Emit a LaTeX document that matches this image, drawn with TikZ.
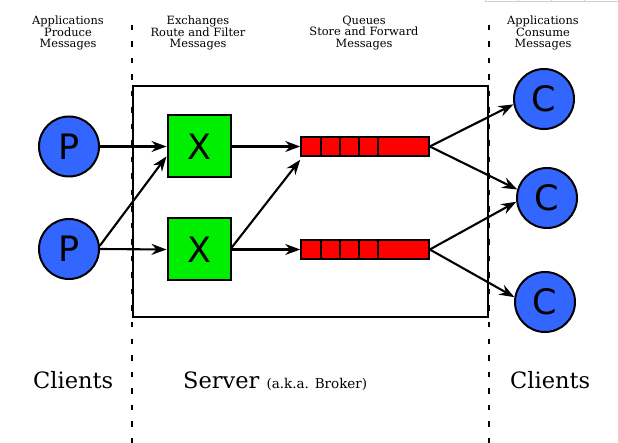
\documentclass[tikz,border=0pt]{standalone}
\usepackage{fontspec}
\setmainfont{DejaVu Serif}
\newfontfamily\letterfont{DejaVu Sans}
\usetikzlibrary{arrows.meta,calc}
\definecolor{cblue}{RGB}{51,102,255}
\definecolor{xgreen}{RGB}{0,238,0}
\definecolor{qred}{RGB}{255,0,0}
\definecolor{gridgray}{RGB}{205,212,208}
\begin{document}
\begin{tikzpicture}[x=1pt,y=-1pt,
  client/.style={circle,draw=black,line width=2pt,fill=cblue,minimum size=60pt,inner sep=0pt,
    font=\letterfont\fontsize{35}{35}\selectfont},
  exch/.style={rectangle,draw=black,line width=2pt,fill=xgreen,minimum width=63pt,minimum height=62pt,inner sep=0pt,
    font=\letterfont\fontsize{35}{35}\selectfont},
  queue/.style={rectangle,draw=black,line width=1.6pt,fill=qred,minimum width=128pt,minimum height=19pt,inner sep=0pt},
  cell/.style={line width=1.5pt},
  flow/.style={line width=2.1pt,-{Stealth[length=15pt,width=11pt,inset=5pt]}},
  sep/.style={line width=1.3pt,dash pattern=on 5.5pt off 11pt},
  box/.style={draw=black,line width=2pt,minimum width=355pt,minimum height=231pt,inner sep=0pt},
  toplbl/.style={align=center,font=\fontsize{11.4}{11.9}\selectfont,inner sep=0pt},
  biglbl/.style={anchor=base west,inner sep=0pt,font=\fontsize{22.5}{24}\selectfont},
  gridline/.style={draw=gridgray,line width=1pt}
]
\useasboundingbox (0,0) rectangle (618,443);

% faint grid remnant at top right
\coordinate (g0) at (485,2);
\coordinate (g1) at (618,2);
\draw[gridline] (g0) -- (g1);
\foreach \gx in {485,518,551,584}{
  \draw[gridline] (\gx,0) -- (\gx,2);
}

% server box
\node[box] (server) at (310.5,201.5) {};

% dashed separators
\coordinate (s1t) at (132,25);
\coordinate (s1b) at (132,443);
\coordinate (s2t) at (489,25);
\coordinate (s2b) at (489,443);
\draw[sep] (s1t) -- (s1b);
\draw[sep] (s2t) -- (s2b);

% top labels
\node[toplbl] (t1) at (68,33) {Applications\\Produce\\Messages};
\node[toplbl] (t2) at (198,33) {Exchanges\\Route and Filter\\Messages};
\node[toplbl] (t3) at (364,33) {Queues\\Store and Forward\\Messages};
\node[toplbl] (t4) at (543,33) {Applications\\Consume\\Messages};

% bottom labels
\node[biglbl] (b1) at (33,388) {Clients};
\node[biglbl] (b2) at (183,388) {Server {\fontsize{13.5}{14}\selectfont(a.k.a. Broker)}};
\node[biglbl] (b3) at (510,388) {Clients};

% producers
\node[client] (P1) at (69,146.5) {P};
\node[client] (P2) at (69,249) {P};

% exchanges
\node[exch] (X1) at (199,146.5) {X};
\node[exch] (X2) at (199,249.5) {X};

% queues
\node[queue] (Q1) at (365,146.5) {};
\node[queue] (Q2) at (365,249.5) {};
\foreach \q in {Q1,Q2}{
  \foreach \d in {21,40,59,78}{
    \draw[cell] ([xshift=\d pt]\q.north west) -- ([xshift=\d pt]\q.south west);
  }
}

% consumers
\node[client] (C1) at (544,99) {C};
\node[client] (C2) at (547,198) {C};
\node[client] (C3) at (545,302) {C};

% flows
\draw[flow] (P1.east) -- (X1.west);
\draw[flow] (P2.6) -- (X1.197);
\draw[flow] (P2.east) -- (X2.west);
\draw[flow] (X1.east) -- (Q1.west);
\draw[flow] (X2.east) -- (Q2.west);
\draw[flow] (X2.3) -- ([yshift=-3pt]Q1.south west);
\draw[flow] (Q1.east) -- (C1.190);
\draw[flow] (Q1.east) -- (C2.164);
\draw[flow] (Q2.east) -- (C2.187);
\draw[flow] (Q2.east) -- (C3.171);
\end{tikzpicture}
\end{document}
